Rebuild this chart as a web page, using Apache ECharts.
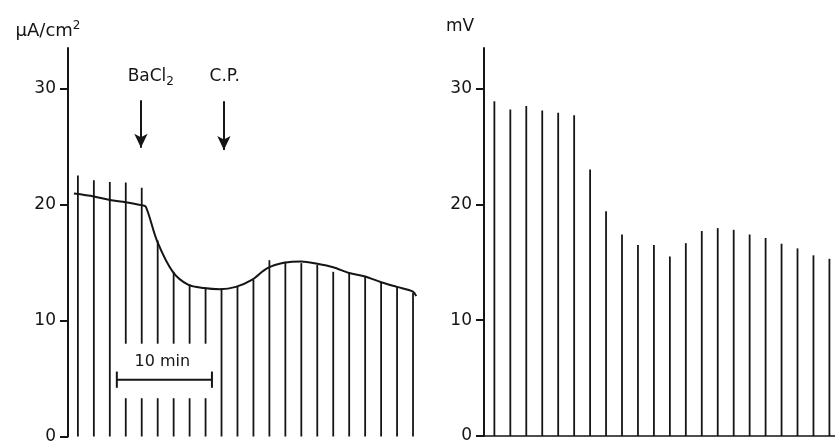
<!DOCTYPE html>
<html><head><meta charset="utf-8">
<script src="https://cdn.jsdelivr.net/npm/echarts@6/dist/echarts.min.js"></script>
<style>html,body{margin:0;padding:0;background:#fff}#c{width:835px;height:445px}</style>
</head><body><div id="c"></div>
<script>
// ---- data ----
// left panel: short-circuit current (µA/cm2), one pulse per index
const leftSpikeTop = [22.5, 22.1, 21.95, 21.9, 21.45, 16.9, 14.2, 13.1, 12.8, 12.8, 12.9, 13.5, 15.2, 15.0, 14.95, 14.8, 14.2, 14.1, 13.8, 13.3, 12.9, 12.4];
const leftGapIdx = [3, 4, 5, 6, 7, 8];      // pulses interrupted by the scale bar label
const leftGapRange = [3.3, 8.0];
const leftCurveX = [-0.25, 1.0, 2.0, 3.0, 3.95, 4.26, 4.95, 5.95, 6.9, 7.9, 8.9, 9.9, 10.9, 11.85, 12.97, 14.0, 15.0, 16.0, 17.0, 18.0, 19.0, 20.0, 21.0, 21.2];
const leftCurveY = [20.95, 20.7, 20.4, 20.2, 19.95, 19.8, 16.9, 14.2, 13.1, 12.8, 12.7, 12.9, 13.5, 14.5, 15.0, 15.1, 14.9, 14.6, 14.1, 13.8, 13.3, 12.9, 12.5, 12.1];
// right panel: potential (mV)
const rightSpikeTop = [28.9, 28.2, 28.5, 28.1, 27.9, 27.7, 23.0, 19.4, 17.4, 16.5, 16.5, 15.5, 16.65, 17.7, 17.95, 17.8, 17.4, 17.1, 16.6, 16.2, 15.6, 15.3];
const yTicks = [0, 10, 20, 30];
// annotations (data coordinates)
const leftArrows = [{x: 3.95, from: 29.0, to: 24.9}, {x: 9.15, from: 28.9, to: 24.7}];
const leftLabels = [{x: 4.57, y: 31.0, t: 'ba'}, {x: 9.2, y: 31.0, t: 'cp'}];
const rightArrows = [{x: 4.79, from: 33.9, to: 29.7}, {x: 10.43, from: 33.8, to: 29.8}];
const rightLabels = [{x: 5.07, y: 35.5, t: 'ba'}, {x: 10.26, y: 35.5, t: 'cp'}];
const scaleBar = {from: 2.44, to: 8.4, y: 4.9, cap: 0.7, labelX: 5.29, labelY: 6.4, label: '10 min'};

const INK = '#151515';
const FONT = 'DejaVu Sans';

function segs(tops, gapIdx, gap) {
  const out = [];
  tops.forEach((t, i) => {
    if (gapIdx && gapIdx.indexOf(i) >= 0) {
      out.push([i, 0, i, gap[0]]);
      out.push([i, gap[1], i, t]);
    } else out.push([i, 0, i, t]);
  });
  return out;
}
function renderSeg(params, api) {
  const p0 = api.coord([api.value(0), api.value(1)]);
  const p1 = api.coord([api.value(2), api.value(3)]);
  return {type: 'line', shape: {x1: p0[0], y1: p0[1], x2: p1[0], y2: p1[1]},
    style: {stroke: INK, lineWidth: api.value(4) || 1.8}};
}
const rich = {
  m: {fontSize: 17, fontFamily: FONT, color: INK, lineHeight: 22},
  n: {fontSize: 18, fontFamily: FONT, color: INK, lineHeight: 22},
  s: {fontSize: 12, fontFamily: FONT, color: INK, lineHeight: 10, verticalAlign: 'bottom'},
  u: {fontSize: 12, fontFamily: FONT, color: INK, lineHeight: 10, verticalAlign: 'top'}
};
function labelText(t) { return t === 'ba' ? '{m|BaCl}{s|2}' : '{m|C.P.}'; }
function arrowLines(arr) {
  return arr.map(a => [{coord: [a.x, a.from]}, {coord: [a.x, a.to]}]);
}
function labelPoints(arr) {
  return arr.map(l => ({coord: [l.x, l.y], value: l.t}));
}
const markPointCfg = (arr) => ({
  symbol: 'circle', symbolSize: 0, silent: true,
  label: {show: true, position: 'inside', formatter: p => labelText(p.value), rich: rich},
  data: labelPoints(arr)
});
const markLineCfg = (arr) => ({
  silent: true, symbol: ['none', 'arrow'], symbolSize: [10, 14],
  lineStyle: {color: INK, width: 2, type: 'solid'}, label: {show: false},
  data: arrowLines(arr)
});

const yAxisBase = (gi, name, padRight, gap) => ({
  type: 'value', gridIndex: gi, min: 0, max: 33.5,
  name: name, nameLocation: 'end', nameGap: gap,
  nameTextStyle: {align: 'center', padding: [0, padRight, 0, 0], rich: rich},
  axisLine: {show: true, onZero: false, lineStyle: {color: INK, width: 2}},
  axisTick: {show: true, customValues: yTicks, length: 8, lineStyle: {color: INK, width: 2}},
  axisLabel: {show: true, customValues: yTicks, margin: 12, color: INK, fontSize: 17, fontFamily: FONT},
  splitLine: {show: false}
});

const chart = echarts.init(document.getElementById('c'), null, {renderer: 'canvas'});
chart.setOption({
  backgroundColor: '#fff',
  animation: false,
  grid: [
    {left: 68, top: 48, width: 353, height: 389},
    {left: 484, top: 48, width: 351, height: 388}
  ],
  xAxis: [
    {type: 'value', gridIndex: 0, min: -0.62, max: 21.5, show: false},
    {type: 'value', gridIndex: 1, min: -0.65, max: 21.35,
      axisLine: {show: true, onZero: false, lineStyle: {color: INK, width: 1.6}},
      axisTick: {show: false}, axisLabel: {show: false}, splitLine: {show: false}}
  ],
  yAxis: [
    yAxisBase(0, '{n|µA/cm}{u|2}', 40, 6),
    yAxisBase(1, '{m|mV}', 48, 10)
  ],
  series: [
    {type: 'custom', xAxisIndex: 0, yAxisIndex: 0, renderItem: renderSeg,
      encode: {x: [0, 2], y: [1, 3]}, data: segs(leftSpikeTop, leftGapIdx, leftGapRange), silent: true, clip: false},
    {type: 'line', xAxisIndex: 0, yAxisIndex: 0, smooth: 0.3, symbol: 'none', clip: false,
      lineStyle: {color: INK, width: 2}, silent: true,
      data: leftCurveX.map((x, i) => [x, leftCurveY[i]]),
      markLine: markLineCfg(leftArrows), markPoint: markPointCfg(leftLabels)},
    {type: 'custom', xAxisIndex: 0, yAxisIndex: 0, renderItem: renderSeg, silent: true, clip: false,
      encode: {x: [0, 2], y: [1, 3]},
      data: [
        [scaleBar.from, scaleBar.y, scaleBar.to, scaleBar.y, 2],
        [scaleBar.from, scaleBar.y - scaleBar.cap, scaleBar.from, scaleBar.y + scaleBar.cap, 2],
        [scaleBar.to, scaleBar.y - scaleBar.cap, scaleBar.to, scaleBar.y + scaleBar.cap, 2]
      ],
      markPoint: {symbol: 'circle', symbolSize: 0, silent: true,
        label: {show: true, position: 'inside', formatter: scaleBar.label, color: INK, fontSize: 16, fontFamily: FONT},
        data: [{coord: [scaleBar.labelX, scaleBar.labelY]}]}},
    {type: 'custom', xAxisIndex: 1, yAxisIndex: 1, renderItem: renderSeg,
      encode: {x: [0, 2], y: [1, 3]}, data: segs(rightSpikeTop), silent: true, clip: false},
    {type: 'line', xAxisIndex: 1, yAxisIndex: 1, symbol: 'none', clip: false, data: [], silent: true,
      markLine: markLineCfg(rightArrows), markPoint: markPointCfg(rightLabels)}
  ]
});
</script></body></html>
